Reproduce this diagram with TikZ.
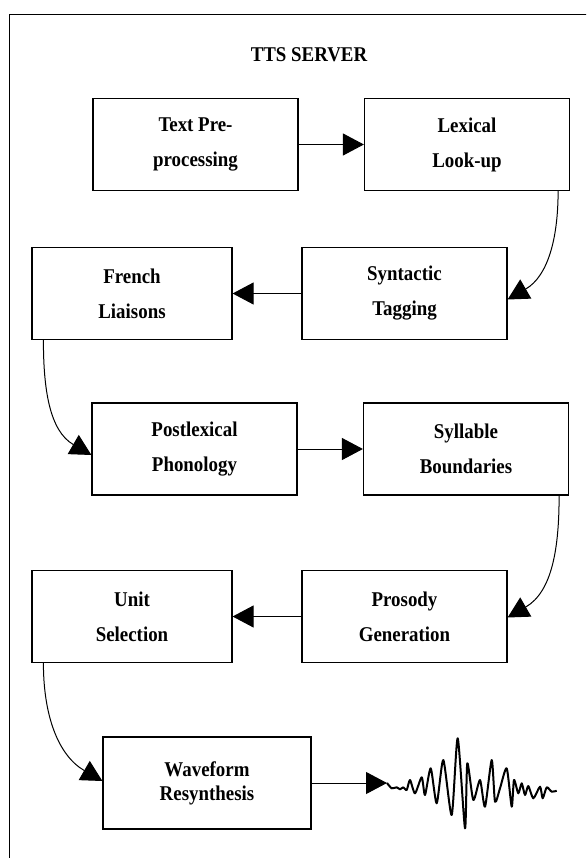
\documentclass[tikz,border=0pt]{standalone}
\usepackage{fontspec}
\setmainfont{Liberation Serif}[FakeStretch=0.9]
\usepackage{tikz}
\usetikzlibrary{arrows.meta}
\tikzstyle{box} = [draw,line width=1.2pt,minimum width=205pt,minimum height=92pt,inner sep=0pt,align=center,font=\bfseries\fontsize{21}{35}\selectfont]
\tikzstyle{arrow} = [line width=1pt,-{Triangle[length=21pt,width=22pt]}]

\begin{document}
\begin{tikzpicture}[x=1pt,y=1pt]
	\useasboundingbox (0,0) rectangle (586,-858);
	\clip (0,0) rectangle (586,-858);
	
	%Frame
	\draw [line width=1.2pt] (9.5,-880) -- (9.5,-14.5) -- (600,-14.5);
	\node (title) at (309,-55) {\bfseries\fontsize{21}{25}\selectfont TTS SERVER};
	
	% Boxes
	\node [box] (txt) at (195.5,-144.5) {Text Pre-\\processing};
	\node [box] (lex) at (467,-144.5) {Lexical\\Look-up};
	\node [box,minimum width=200pt] (fre) at (132,-293.5) {French\\Liaisons};
	\node [box] (syn) at (404.5,-293.5) {Syntactic\\Tagging};
	\node [box] (post) at (194.5,-449) {Postlexical\\Phonology};
	\node [box] (syl) at (466,-449) {Syllable\\Boundaries};
	\node [box,minimum width=200pt] (unit) at (132,-616.5) {Unit\\Selection};
	\node [box] (pros) at (404.5,-616.5) {Prosody\\Generation};
	\node [box,minimum width=208pt,font=\bfseries\fontsize{21}{24}\selectfont] (wave) at (207,-783) {Waveform\\Resynthesis};
	\coordinate (wv) at (387,-783);
	
	% Arrows
	\draw [arrow] (txt.east) -- (lex.west);
	\draw [arrow] ([xshift=-12pt]lex.south east) to[out=-90,in=30] ([yshift=-6pt]syn.east);
	\draw [arrow] (syn.west) -- (fre.east);
	\draw [arrow] ([xshift=12pt]fre.south west) to[out=-90,in=150] ([yshift=-6pt]post.west);
	\draw [arrow] (post.east) -- (syl.west);
	\draw [arrow] ([xshift=-10pt]syl.south east) to[out=-90,in=30] ([yshift=-1pt]pros.east);
	\draw [arrow] (pros.west) -- (unit.east);
	\draw [arrow] ([xshift=12pt]unit.south west) to[out=-90,in=150] ([yshift=2pt]wave.west);
	\draw [arrow] (wave.east) -- (wv);
	
	% Waveform signal
	\draw [line width=2pt,line join=round] plot[smooth,tension=0.4] coordinates {(wv) (391.7,-788.3) (396.7,-787.3) (400,-789.3) (403.3,-787.3) (406.7,-790) (410,-780) (415,-793.3) (421.7,-777.3) (425,-795) (430.7,-768.3) (436.7,-803.3) (443.3,-760) (451.7,-815) (457.7,-738.3) (465,-828.3) (467.3,-763.3) (473.3,-800) (480,-780) (485,-806.7) (491.7,-760) (495,-801.7) (500,-788.3) (506.7,-768.3) (511.7,-806.7) (514,-780) (518.3,-793.3) (521.7,-783.3) (525,-795) (528.3,-786) (533.3,-798.3) (540,-786.7) (542.7,-798.3) (546.7,-787.3) (551.7,-791.7) (556.7,-790.7)};
	
\end{tikzpicture}
\end{document}
